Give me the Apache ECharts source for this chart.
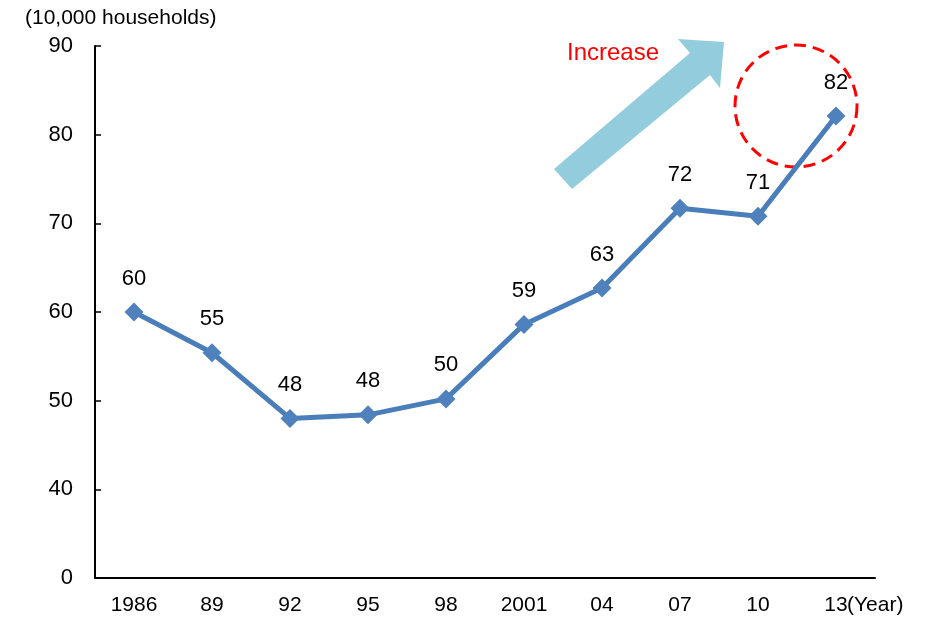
<!DOCTYPE html>
<html>
<head>
<meta charset="utf-8">
<script src="https://cdn.jsdelivr.net/npm/echarts@6/dist/echarts.min.js"></script>
<style>
  html, body { margin: 0; padding: 0; background: #fff; }
  #chart { width: 926px; height: 618px; }
</style>
</head>
<body>
<div id="chart"></div>
<script>
// x categories (years)
const years = ['1986', '89', '92', '95', '98', '2001', '04', '07', '10', '13']
// households, in 10,000
const households = [60.0, 55.4, 48.0, 48.4, 50.2, 58.6, 62.7, 71.7, 70.8, 82.1]
// shown labels
const labelValues = [60, 55, 48, 48, 50, 59, 63, 72, 71, 82]
// y axis is broken: the bottom tick (30) is shown as 0
const yMin = 30
const yMax = 90

const font = 'Liberation Sans, Arial, sans-serif'
const myChart = echarts.init(document.getElementById('chart'))

let option = {
  animation: false,
  backgroundColor: '#fff',
  grid: { left: 95, right: 51, top: 46, bottom: 40 },
  xAxis: {
    type: 'category',
    data: years,
    boundaryGap: true,
    axisLine: { lineStyle: { color: '#000', width: 2 } },
    axisTick: { inside: true, length: 6, lineStyle: { color: '#000', width: 1.5 } },
    axisLabel: { color: '#000', fontSize: 21, fontFamily: font, margin: 17 },
    splitLine: { show: false }
  },
  yAxis: {
    type: 'value',
    min: yMin,
    max: yMax,
    interval: 10,
    axisLine: { show: true, lineStyle: { color: '#000', width: 2 } },
    axisTick: { show: true, inside: true, length: 6, lineStyle: { color: '#000', width: 1.5 } },
    axisLabel: {
      color: '#000', fontSize: 22, fontFamily: font, margin: 22,
      formatter: v => (v === yMin ? '0' : String(v))
    },
    splitLine: { show: false }
  },
  series: [{
    type: 'line',
    data: households,
    symbol: 'diamond',
    symbolSize: 19,
    lineStyle: { color: '#4A7EBB', width: 5 },
    itemStyle: { color: '#4F81BD' },
    label: {
      show: true,
      position: 'top',
      distance: 13,
      color: '#000',
      fontSize: 22,
      fontFamily: font,
      formatter: p => labelValues[p.dataIndex]
    }
  }],
  graphic: [
    {
      type: 'text', left: 25, top: 8,
      style: { text: '(10,000 households)', fill: '#000', fontSize: 21, fontFamily: font }
    },
    {
      type: 'text', left: 847, top: 595,
      style: { text: '(Year)', fill: '#000', fontSize: 21, fontFamily: font }
    },
    {
      type: 'polygon',
      shape: { points: [[554, 169], [690, 53], [678, 39], [724, 42], [720, 88], [710, 75], [572, 189]] },
      style: { fill: '#93CDDD' }
    },
    {
      type: 'text', left: 567, top: 41,
      style: { text: 'Increase', fill: '#FF0000', fontSize: 24, fontFamily: font }
    },
    {
      type: 'circle',
      shape: { cx: 796, cy: 106, r: 61 },
      style: { fill: 'none', stroke: '#FF0000', lineWidth: 3, lineDash: [12, 7] }
    }
  ]
}
myChart.setOption(option)
</script>
</body>
</html>
